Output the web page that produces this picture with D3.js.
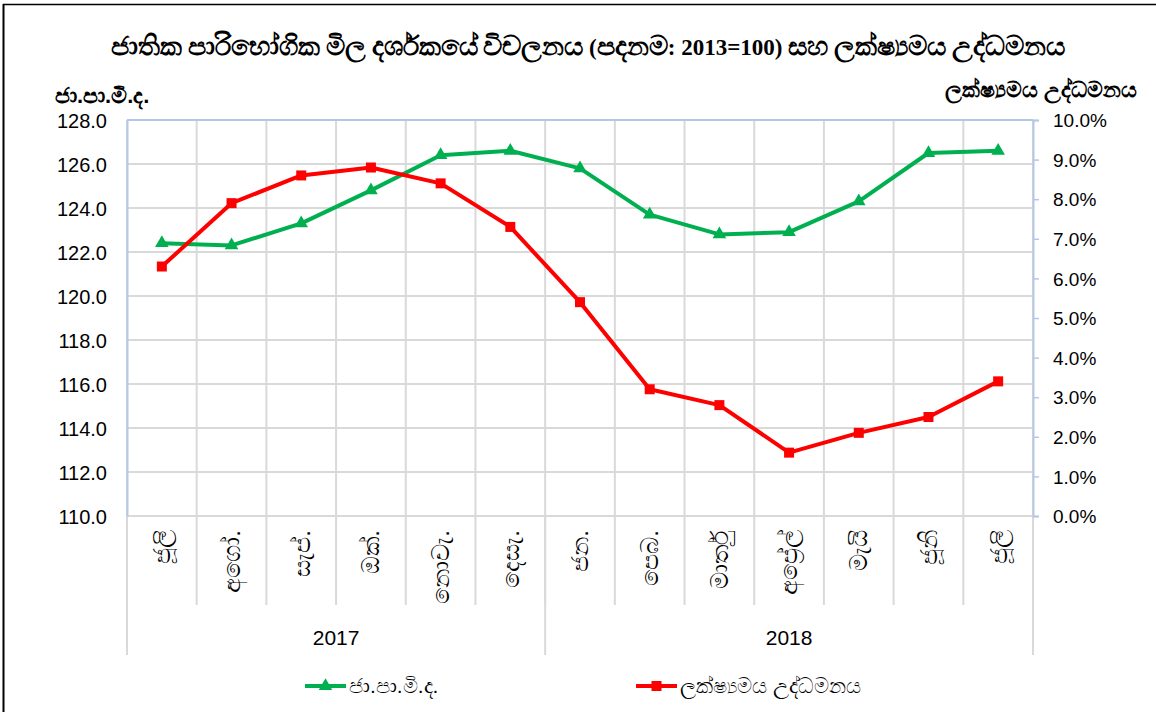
<!DOCTYPE html>
<html>
<head>
<meta charset="utf-8">
<script src="https://cdn.jsdelivr.net/npm/d3@7"></script>
<style>
  body { margin: 0; background: #fff; }
  svg text { font-family: "Liberation Sans", Arial, sans-serif; fill: #000; }
</style>
</head>
<body>
<div id="chart"></div>
<script>
// chart values
var months = ["ජූලි", "අගෝ.", "සැප්.", "ඔක්.", "නොවැ.", "දෙසැ.", "ජන.", "පෙබ.", "මාර්තු", "අප්‍රේල්", "මැයි", "ජූනි", "ජූලි"];
var years = [{label: "2017", from: 0, to: 5}, {label: "2018", from: 6, to: 12}];
var ccpi = [122.4, 122.3, 123.3, 124.8, 126.4, 126.6, 125.8, 123.7, 122.8, 122.9, 124.3, 126.5, 126.6];
var inflation = [6.3, 7.9, 8.6, 8.8, 8.4, 7.3, 5.4, 3.2, 2.8, 1.6, 2.1, 2.5, 3.4];
var leftTicks = [110, 112, 114, 116, 118, 120, 122, 124, 126, 128];
var rightTicks = [0, 1, 2, 3, 4, 5, 6, 7, 8, 9, 10];

var titleText = "ජාතික පාරිභෝගික මිල දර්ශකයේ විචලනය (පදනම: 2013=100) සහ ලක්ෂ්‍යමය උද්ධමනය";
var leftName = "ජා.පා.මි.ද.";
var rightName = "ලක්ෂ්‍යමය උද්ධමනය";

var W = 1156, H = 712;
var margin = {top: 120, right: 123, bottom: 196, left: 127},
    width = W - margin.left - margin.right,
    height = H - margin.top - margin.bottom;

var svg = d3.select("#chart")
  .append("svg")
    .attr("width", W)
    .attr("height", H);

// outer frame (only top and left visible in the reference)
svg.append("line").attr("x1", 3.5).attr("x2", 3.5).attr("y1", 4).attr("y2", H)
    .attr("stroke", "#000").attr("stroke-width", 2);
svg.append("line").attr("x1", 3).attr("x2", W).attr("y1", 4.5).attr("y2", 4.5)
    .attr("stroke", "#000").attr("stroke-width", 1.5);

// title - sinhala runs get a bigger size, the fallback font draws them small
var title = svg.append("text")
    .attr("x", 588).attr("y", 55)
    .attr("text-anchor", "middle")
    .style("font-family", "'Liberation Serif', 'Times New Roman', serif")
    .style("font-weight", "bold");
title.selectAll("tspan")
  .data(titleText.match(/[\u0D80-\u0DFF\u200D]+|[^\u0D80-\u0DFF\u200D]+/g))
  .enter().append("tspan")
    .style("font-size", d => /[\u0D80-\u0DFF]/.test(d) ? "27px" : "23px")
    .text(d => d);

var g = svg.append("g")
    .attr("transform", "translate(" + margin.left + "," + margin.top + ")");

// scales
var xScale = d3.scaleBand()
    .domain(d3.range(months.length))
    .range([0, width]);

var yLeft = d3.scaleLinear().domain([110, 128]).range([height, 0]);
var yRight = d3.scaleLinear().domain([0, 10]).range([height, 0]);

// horizontal gridlines
g.selectAll(".hgrid")
  .data(leftTicks)
  .enter().append("line")
    .attr("class", "hgrid")
    .attr("x1", 0).attr("x2", width)
    .attr("y1", d => yLeft(d)).attr("y2", d => yLeft(d))
    .attr("stroke", "#d9d9d9").attr("stroke-width", 2);

// vertical gridlines at category boundaries, continuing through month label band
var bounds = d3.range(months.length + 1);
g.selectAll(".vgrid")
  .data(bounds)
  .enter().append("line")
    .attr("class", "vgrid")
    .attr("x1", d => d * xScale.step()).attr("x2", d => d * xScale.step())
    .attr("y1", 0).attr("y2", height + 89)
    .attr("stroke", "#d9d9d9").attr("stroke-width", 2);

// year group separators
var yearEdges = [0, years[1].from * xScale.step(), width];
g.selectAll(".ysep")
  .data(yearEdges)
  .enter().append("line")
    .attr("class", "ysep")
    .attr("x1", d => d).attr("x2", d => d)
    .attr("y1", height).attr("y2", height + 139)
    .attr("stroke", "#d9d9d9").attr("stroke-width", 2);

// plot borders
g.append("line").attr("x1", 0).attr("x2", width).attr("y1", 0).attr("y2", 0)
    .attr("stroke", "#b4c7e7").attr("stroke-width", 2);
g.append("line").attr("x1", 0).attr("x2", width).attr("y1", height).attr("y2", height)
    .attr("stroke", "#d9d9d9").attr("stroke-width", 2);

// left axis
var leftAxis = d3.axisLeft(yLeft).tickValues(leftTicks).tickSize(0).tickPadding(20)
    .tickFormat(d3.format(".1f"));
var gl = g.append("g").call(leftAxis);
gl.select(".domain").attr("stroke", "#b4c7e7").attr("stroke-width", 2);
gl.selectAll("text").style("font-size", "20px").attr("dy", "0.35em");

// right axis
var rightAxis = d3.axisRight(yRight).tickValues(rightTicks).tickSize(6).tickPadding(14)
    .tickFormat(d => d.toFixed(1) + "%");
var gr = g.append("g").attr("transform", "translate(" + width + ",0)").call(rightAxis);
gr.select(".domain").attr("stroke", "#b4c7e7").attr("stroke-width", 2);
gr.selectAll(".tick line").attr("stroke", "#b4c7e7").attr("stroke-width", 1.5);
gr.selectAll("text").style("font-size", "19px").attr("dy", "0.35em");

// axis names
svg.append("text")
    .attr("x", 55).attr("y", 103)
    .style("font-size", "22px").style("font-weight", "bold")
    .text(leftName);
svg.append("text")
    .attr("x", 1137).attr("y", 97)
    .attr("text-anchor", "end")
    .style("font-size", "22px").style("font-weight", "bold")
    .text(rightName);

// month labels, rotated
g.selectAll(".month")
  .data(months)
  .enter().append("text")
    .attr("class", "month")
    .attr("transform", (d, i) => "translate(" + (xScale(i) + xScale.bandwidth() / 2) + "," + (height + 14) + ") rotate(-90)")
    .attr("text-anchor", "end")
    .attr("dy", "0.35em")
    .style("font-size", "24px")
    .text(d => d);

// year labels
g.selectAll(".year")
  .data(years)
  .enter().append("text")
    .attr("class", "year")
    .attr("x", d => (xScale(d.from) + xScale(d.to) + xScale.bandwidth()) / 2)
    .attr("y", height + 129)
    .attr("text-anchor", "middle")
    .style("font-size", "21px")
    .text(d => d.label);

var cx = i => xScale(i) + xScale.bandwidth() / 2;
var green = "#00b050", red = "#ff0000";

// CCPI line
g.append("path")
    .datum(ccpi)
    .attr("fill", "none")
    .attr("stroke", green).attr("stroke-width", 4).attr("stroke-linejoin", "round")
    .attr("d", d3.line().x((d, i) => cx(i)).y(d => yLeft(d)));

g.selectAll(".tri")
  .data(ccpi)
  .enter().append("path")
    .attr("class", "tri")
    .attr("transform", (d, i) => "translate(" + cx(i) + "," + yLeft(d) + ")")
    .attr("d", d3.symbol().type(d3.symbolTriangle).size(80))
    .attr("fill", green);

// inflation line
g.append("path")
    .datum(inflation)
    .attr("fill", "none")
    .attr("stroke", red).attr("stroke-width", 4).attr("stroke-linejoin", "round")
    .attr("d", d3.line().x((d, i) => cx(i)).y(d => yRight(d)));

g.selectAll(".sq")
  .data(inflation)
  .enter().append("rect")
    .attr("class", "sq")
    .attr("x", (d, i) => cx(i) - 5).attr("y", d => yRight(d) - 5)
    .attr("width", 10).attr("height", 10)
    .attr("fill", red);

// legend
var legendItems = [
  {name: leftName, color: green, shape: "tri", x: 305},
  {name: rightName, color: red, shape: "sq", x: 636}
];
var lg = svg.selectAll(".legend")
  .data(legendItems)
  .enter().append("g")
    .attr("class", "legend")
    .attr("transform", d => "translate(" + d.x + ",686)");
lg.append("line").attr("x1", 0).attr("x2", 41).attr("y1", 0).attr("y2", 0)
    .attr("stroke", d => d.color).attr("stroke-width", 4);
lg.each(function(d) {
  var s = d3.select(this);
  if (d.shape === "tri") {
    s.append("path").attr("transform", "translate(20.5,0)")
      .attr("d", d3.symbol().type(d3.symbolTriangle).size(80)).attr("fill", d.color);
  } else {
    s.append("rect").attr("x", 15.5).attr("y", -5).attr("width", 10).attr("height", 10).attr("fill", d.color);
  }
});
lg.append("text").attr("x", 44).attr("y", 0).attr("dy", "0.35em")
    .style("font-size", "21px")
    .text(d => d.name);
</script>
</body>
</html>
